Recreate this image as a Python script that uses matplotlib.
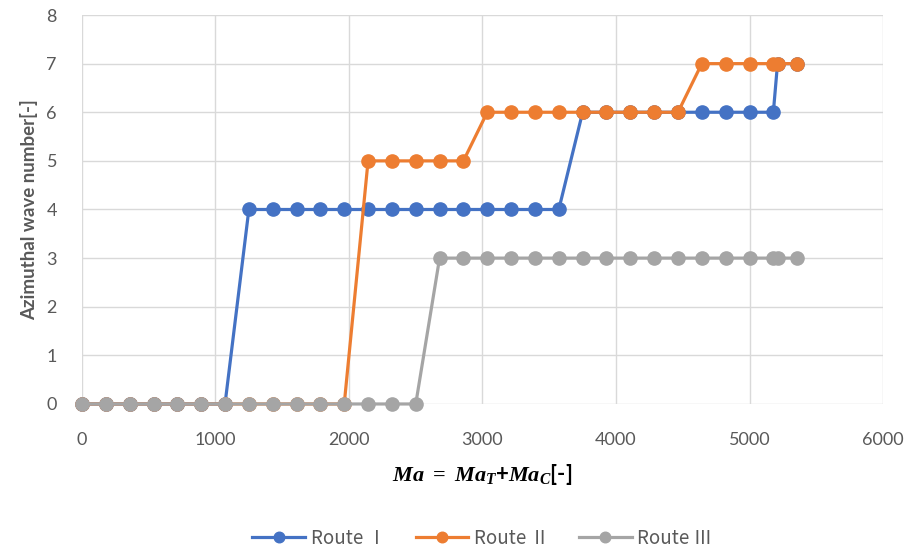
import matplotlib
matplotlib.use('Agg')
import matplotlib.pyplot as plt

plt.rcParams['font.family'] = ['Lato', 'Noto Sans CJK JP', 'DejaVu Sans']
plt.rcParams['mathtext.fontset'] = 'custom'
plt.rcParams['mathtext.it'] = 'Liberation Serif:bold:italic'
plt.rcParams['mathtext.rm'] = 'Liberation Serif:bold'

# Ma values sampled by the calculation (same for every route)
ma = [0, 178.6, 357.1, 535.7, 714.3, 892.9, 1071.4, 1250.0, 1428.6, 1607.1,
      1785.7, 1964.3, 2142.9, 2321.4, 2500.0, 2678.6, 2857.1, 3035.7, 3214.3,
      3392.9, 3571.4, 3750.0, 3928.6, 4107.1, 4285.7, 4464.3, 4642.9, 4821.4,
      5000.0, 5178.6, 5210.0, 5357.1]

route_1 = [0, 0, 0, 0, 0, 0, 0, 4, 4, 4, 4, 4, 4, 4, 4, 4, 4, 4, 4, 4, 4,
           6, 6, 6, 6, 6, 6, 6, 6, 6, 7, 7]
route_2 = [0, 0, 0, 0, 0, 0, 0, 0, 0, 0, 0, 0, 5, 5, 5, 5, 5, 6, 6, 6, 6,
           6, 6, 6, 6, 6, 7, 7, 7, 7, 7, 7]
route_3 = [0, 0, 0, 0, 0, 0, 0, 0, 0, 0, 0, 0, 0, 0, 0, 3, 3, 3, 3, 3, 3,
           3, 3, 3, 3, 3, 3, 3, 3, 3, 3, 3]

labels = ['Route Ⅰ', 'Route Ⅱ', 'Route Ⅲ']
colors = ['#4472C4', '#ED7D31', '#A5A5A5']
text_color = '#595959'

fig = plt.figure(figsize=(9.09, 5.54), dpi=100)
ax = fig.add_axes([0.0902, 0.2708, 0.8812, 0.7021])

for ys, lab, col in zip([route_1, route_2, route_3], labels, colors):
    ax.plot(ma, ys, '-o', color=col, lw=2.3, markersize=9.5, label=lab,
            clip_on=False, zorder=3)

ax.set_xlim(0, 6000)
ax.set_ylim(0, 8)
ax.set_xticks(range(0, 6001, 1000))
ax.set_yticks(range(0, 9))
ax.grid(True, color='#D9D9D9', lw=1.0)
ax.set_axisbelow(True)
for s in ax.spines.values():
    s.set_visible(False)
ax.tick_params(length=0, labelsize=13, labelcolor=text_color)
ax.tick_params(axis='x', pad=20)
ax.tick_params(axis='y', pad=18)

ax.set_ylabel('Azimuthal wave number[-]', fontsize=13.5, fontweight='bold',
              color=text_color, labelpad=6)
ax.set_xlabel(r'$Ma\ =\ Ma_T$+$Ma_C$[-]', fontsize=16, fontweight='bold',
              color='black', labelpad=10)

ax.legend(loc='center', bbox_to_anchor=(0.5, -0.345), ncol=3, frameon=False,
          prop={'family': ['Noto Sans CJK JP', 'DejaVu Sans'], 'size': 13.5},
          labelcolor=text_color, handlelength=2.8,
          columnspacing=1.6, handletextpad=0.3, markerscale=0.8)

fig.savefig('out.png', dpi=100)
